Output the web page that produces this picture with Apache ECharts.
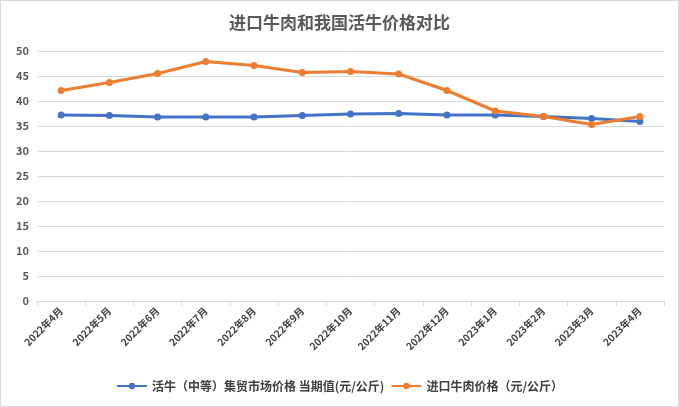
<!DOCTYPE html>
<html><head><meta charset="utf-8">
<script src="https://cdn.jsdelivr.net/npm/echarts@6/dist/echarts.min.js"></script>
<style>html,body{margin:0;padding:0;background:#fff;}#c{width:677px;height:405px;border:1px solid #d9d9d9;}</style>
</head><body><div id="c"></div>
<script>
const categories = ['2022年4月','2022年5月','2022年6月','2022年7月','2022年8月','2022年9月','2022年10月','2022年11月','2022年12月','2023年1月','2023年2月','2023年3月','2023年4月'];
const liveCattle = [37.2,37.1,36.8,36.8,36.8,37.1,37.4,37.5,37.2,37.2,36.9,36.5,35.9];
const importedBeef = [42.1,43.7,45.5,47.9,47.1,45.7,45.9,45.4,42.1,38.0,36.9,35.3,36.9];
const seriesNames = ['活牛（中等）集贸市场价格 当期值(元/公斤)','进口牛肉价格（元/公斤）'];
const titleText = '进口牛肉和我国活牛价格对比';
const font = '"Noto Sans CJK SC", sans-serif';
const chart = echarts.init(document.getElementById('c'));
chart.setOption({
  backgroundColor:'#fff',
  animation:false,
  title:{text:titleText,left:'center',top:8,textStyle:{fontFamily:font,fontSize:17,fontWeight:'bold',color:'#595959'}},
  grid:{left:36,right:14,top:50,bottom:105},
  legend:{bottom:9,left:'center',itemWidth:30,itemHeight:8,itemGap:6,
    textStyle:{fontFamily:font,fontSize:12,fontWeight:'bold',color:'#404040'},data:seriesNames},
  xAxis:{type:'category',data:categories,boundaryGap:true,
    axisLine:{lineStyle:{color:'#d9d9d9'}},
    axisTick:{show:true,length:5,lineStyle:{color:'#d9d9d9'}},
    axisLabel:{rotate:45,fontFamily:font,fontSize:10,fontWeight:'bold',color:'#404040',margin:8}},
  yAxis:{type:'value',min:0,max:50,interval:5,
    axisLine:{show:false},axisTick:{show:false},
    splitLine:{lineStyle:{color:'#d9d9d9'}},
    axisLabel:{fontFamily:font,fontSize:11,fontWeight:'bold',color:'#595959',margin:8}},
  series:[
    {name:seriesNames[0],type:'line',data:liveCattle,symbol:'circle',symbolSize:7,
     lineStyle:{width:3,color:'#4472c4'},itemStyle:{color:'#4472c4'}},
    {name:seriesNames[1],type:'line',data:importedBeef,symbol:'circle',symbolSize:7,
     lineStyle:{width:3,color:'#ed7d31'},itemStyle:{color:'#ed7d31'}}
  ]
});
</script></body></html>
